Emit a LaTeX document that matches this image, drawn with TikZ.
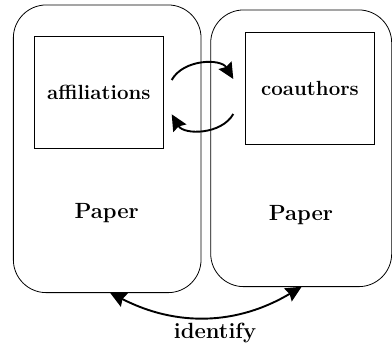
\documentclass[tikz,border=0pt]{standalone}
\usetikzlibrary{arrows.meta}
\begin{document}
\begin{tikzpicture}[x=1pt,y=1pt,
  paperbox/.style={draw, line width=0.8pt, rounded corners=33pt, inner sep=0pt},
  fieldbox/.style={draw, line width=0.7pt, inner sep=0pt, font=\fontsize{20.5}{24}\selectfont\bfseries},
  lbl/.style={font=\fontsize{22}{26}\selectfont\bfseries, inner sep=0pt},
  arr/.style={line width=1.9pt, -{Stealth[length=16pt,width=15pt,inset=2pt]}},
  darr/.style={line width=1.9pt, {Stealth[length=16pt,width=15pt,inset=2pt]}-{Stealth[length=16pt,width=15pt,inset=2pt]}}]
\useasboundingbox (0,0) rectangle (392,347);
\node[paperbox, minimum width=187.7pt, minimum height=287.7pt] (p1) at (107.2,198.2) {};
\node[paperbox, minimum width=181pt, minimum height=276.7pt] (p2) at (301.2,198.7) {};
\node[fieldbox, minimum width=129pt, minimum height=112.3pt] (aff) at (98.8,254.8) {affiliations};
\node[fieldbox, minimum width=129.4pt, minimum height=111.7pt] (coa) at (310,258.8) {coauthors};
\node[lbl] (t1) at (106.7,133.7) {Paper};
\node[lbl] (t2) at (301,132) {Paper};
\node[lbl] (id) at (215,14) {identify};
\coordinate (a1) at (171.7,267);
\coordinate (a2) at (233.3,268);
\coordinate (b1) at (233.3,233);
\coordinate (b2) at (171.7,232.7);
\coordinate (c1) at (110,54.3);
\coordinate (c2) at (301.7,60.3);
\draw[arr] (a1) to[bend left=60] (a2);
\draw[arr] (b1) to[bend left=60] (b2);
\draw[darr] (c1) to[bend right=29] (c2);
\end{tikzpicture}
\end{document}
